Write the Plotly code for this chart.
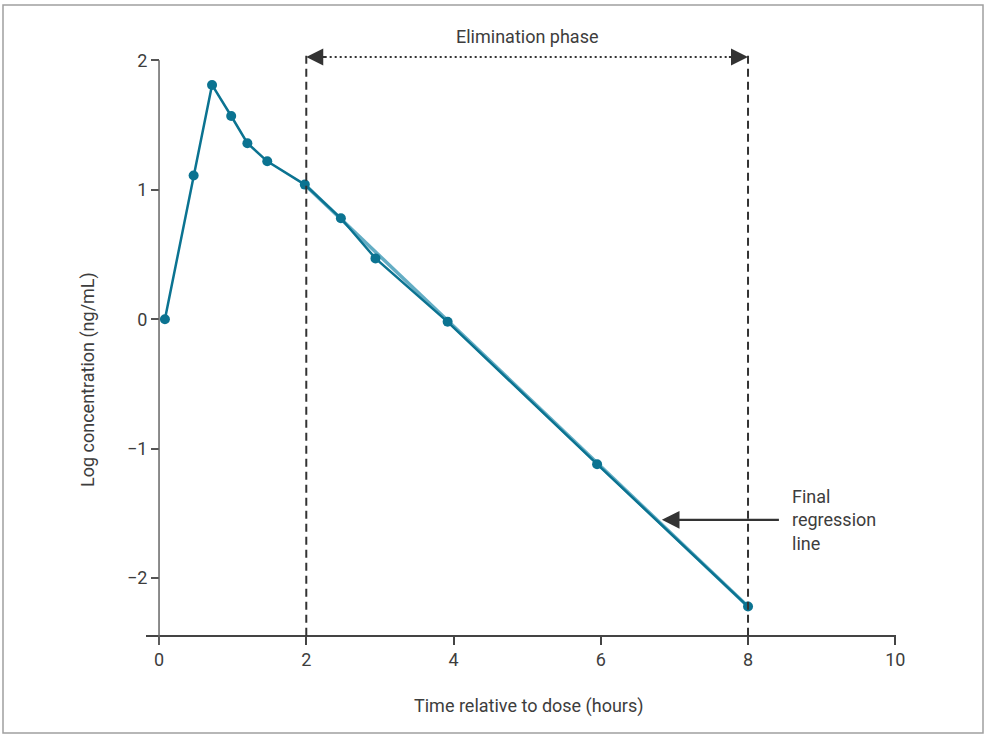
import plotly.graph_objects as go

# Data
time_h = [0.08, 0.47, 0.72, 0.98, 1.2, 1.47, 1.98, 2.47, 2.94, 3.92, 5.95, 8.0]
log_conc = [0.0, 1.11, 1.81, 1.57, 1.36, 1.22, 1.04, 0.78, 0.47, -0.02, -1.12, -2.22]
reg_x = [1.98, 8.0]
reg_y = [1.04, -2.22]
x_ticks = [0, 2, 4, 6, 8, 10]
y_ticks = [-2, -1, 0, 1, 2]
phase_start, phase_end = 2.0, 8.0

TEAL = "#0b7391"
LIGHT = "#63adc4"
DARK = "#333333"
TXT = "#3d3d3d"
FONT = "Roboto"
FS = 18

W, H = 985, 737
L, R, T, B = 146, 89, 50, 92
x_range = [-0.177, 10.01]
y_range = [-2.517, 2.08]
x_axis_y = -2.446  # data y at which x-axis line sits
paper_w = W - L - R
paper_h = H - T - B

fig = go.Figure()
fig.add_trace(go.Scatter(x=reg_x, y=reg_y, mode="lines",
                         line=dict(color=LIGHT, width=3.5), hoverinfo="skip", showlegend=False))
fig.add_trace(go.Scatter(x=time_h, y=log_conc, mode="lines+markers",
                         line=dict(color=TEAL, width=2.5),
                         marker=dict(color=TEAL, size=10), showlegend=False))

# y axis line
fig.add_shape(type="line", xref="x", yref="y", x0=0, x1=0, y0=y_range[0], y1=2,
              line=dict(color="#666666", width=1.5))
# elimination boundaries
for xv in (phase_start, phase_end):
    fig.add_shape(type="line", xref="x", yref="y", x0=xv, x1=xv, y0=x_axis_y, y1=2.04,
                  line=dict(color=DARK, width=2, dash="8px,5px"))
# dotted line
arrow_y = 2.025
fig.add_shape(type="line", xref="x", yref="y", x0=phase_start + 0.25, x1=phase_end - 0.25,
              y0=arrow_y, y1=arrow_y, line=dict(color=DARK, width=2, dash="2px,3px"))
# arrow heads
for tip, tail in ((phase_start, phase_start + 0.28), (phase_end, phase_end - 0.28)):
    fig.add_annotation(x=tip, y=arrow_y, ax=tail, ay=arrow_y, xref="x", yref="y",
                       axref="x", ayref="y", text="", showarrow=True,
                       arrowhead=2, arrowsize=1.7, arrowwidth=2, arrowcolor=DARK)
fig.add_annotation(x=(phase_start + phase_end) / 2, y=1.0, xref="x", yref="paper",
                   yshift=26, text="Elimination phase", showarrow=False,
                   font=dict(family=FONT, size=FS, color=TXT))

# Final regression line annotation
fig.add_annotation(x=6.83, y=-1.55, ax=8.44, ay=-1.55, xref="x", yref="y",
                   axref="x", ayref="y", text="", showarrow=True,
                   arrowhead=2, arrowsize=1.6, arrowwidth=2.2, arrowcolor=DARK)
fig.add_annotation(x=8.57, y=-1.55, xref="x", yref="y", xanchor="left", yanchor="middle",
                   text="Final<br>regression<br>line", align="left", showarrow=False,
                   font=dict(family=FONT, size=FS, color=TXT))

# axis titles
fig.add_annotation(x=(529 - L) / paper_w, y=(H - B - 706) / paper_h, xref="paper", yref="paper",
                   xanchor="center", yanchor="middle",
                   text="Time relative to dose (hours)", showarrow=False,
                   font=dict(family=FONT, size=FS, color=TXT))
fig.add_annotation(x=(88 - L) / paper_w, y=(H - B - 380) / paper_h, xref="paper", yref="paper",
                   xanchor="center", yanchor="middle",
                   text="Log concentration (ng/mL)", textangle=-90, showarrow=False,
                   font=dict(family=FONT, size=FS, color=TXT))

# outer frame
fig.add_shape(type="rect", xref="paper", yref="paper",
              x0=(3 - L) / paper_w, x1=(983 - L) / paper_w,
              y0=(H - B - 733) / paper_h, y1=(H - B - 5) / paper_h,
              line=dict(color="#a0a0a0", width=1.5))

fig.update_layout(
    width=W, height=H, margin=dict(l=L, r=R, t=T, b=B),
    plot_bgcolor="white", paper_bgcolor="white",
    font=dict(family=FONT, size=FS, color=TXT),
    xaxis=dict(range=x_range, tickvals=x_ticks, showgrid=False, zeroline=False,
               showline=True, linecolor="#444444", linewidth=1.5,
               ticks="outside", ticklen=8, tickwidth=1.5, tickcolor="#444444",
               anchor="free", position=(x_axis_y - y_range[0]) / (y_range[1] - y_range[0]),
               tickfont=dict(family=FONT, size=FS, color=TXT)),
    yaxis=dict(range=y_range, tickvals=y_ticks, showgrid=False, zeroline=False,
               showline=False, ticks="outside", ticklen=8, tickwidth=1.5, tickcolor="#555555",
               anchor="free", position=(0 - x_range[0]) / (x_range[1] - x_range[0]),
               tickfont=dict(family=FONT, size=FS, color=TXT)),
)

fig.write_html("out.html", config={"displayModeBar": False},
               post_script="document.body.style.margin='0';document.body.style.overflow='hidden';")
